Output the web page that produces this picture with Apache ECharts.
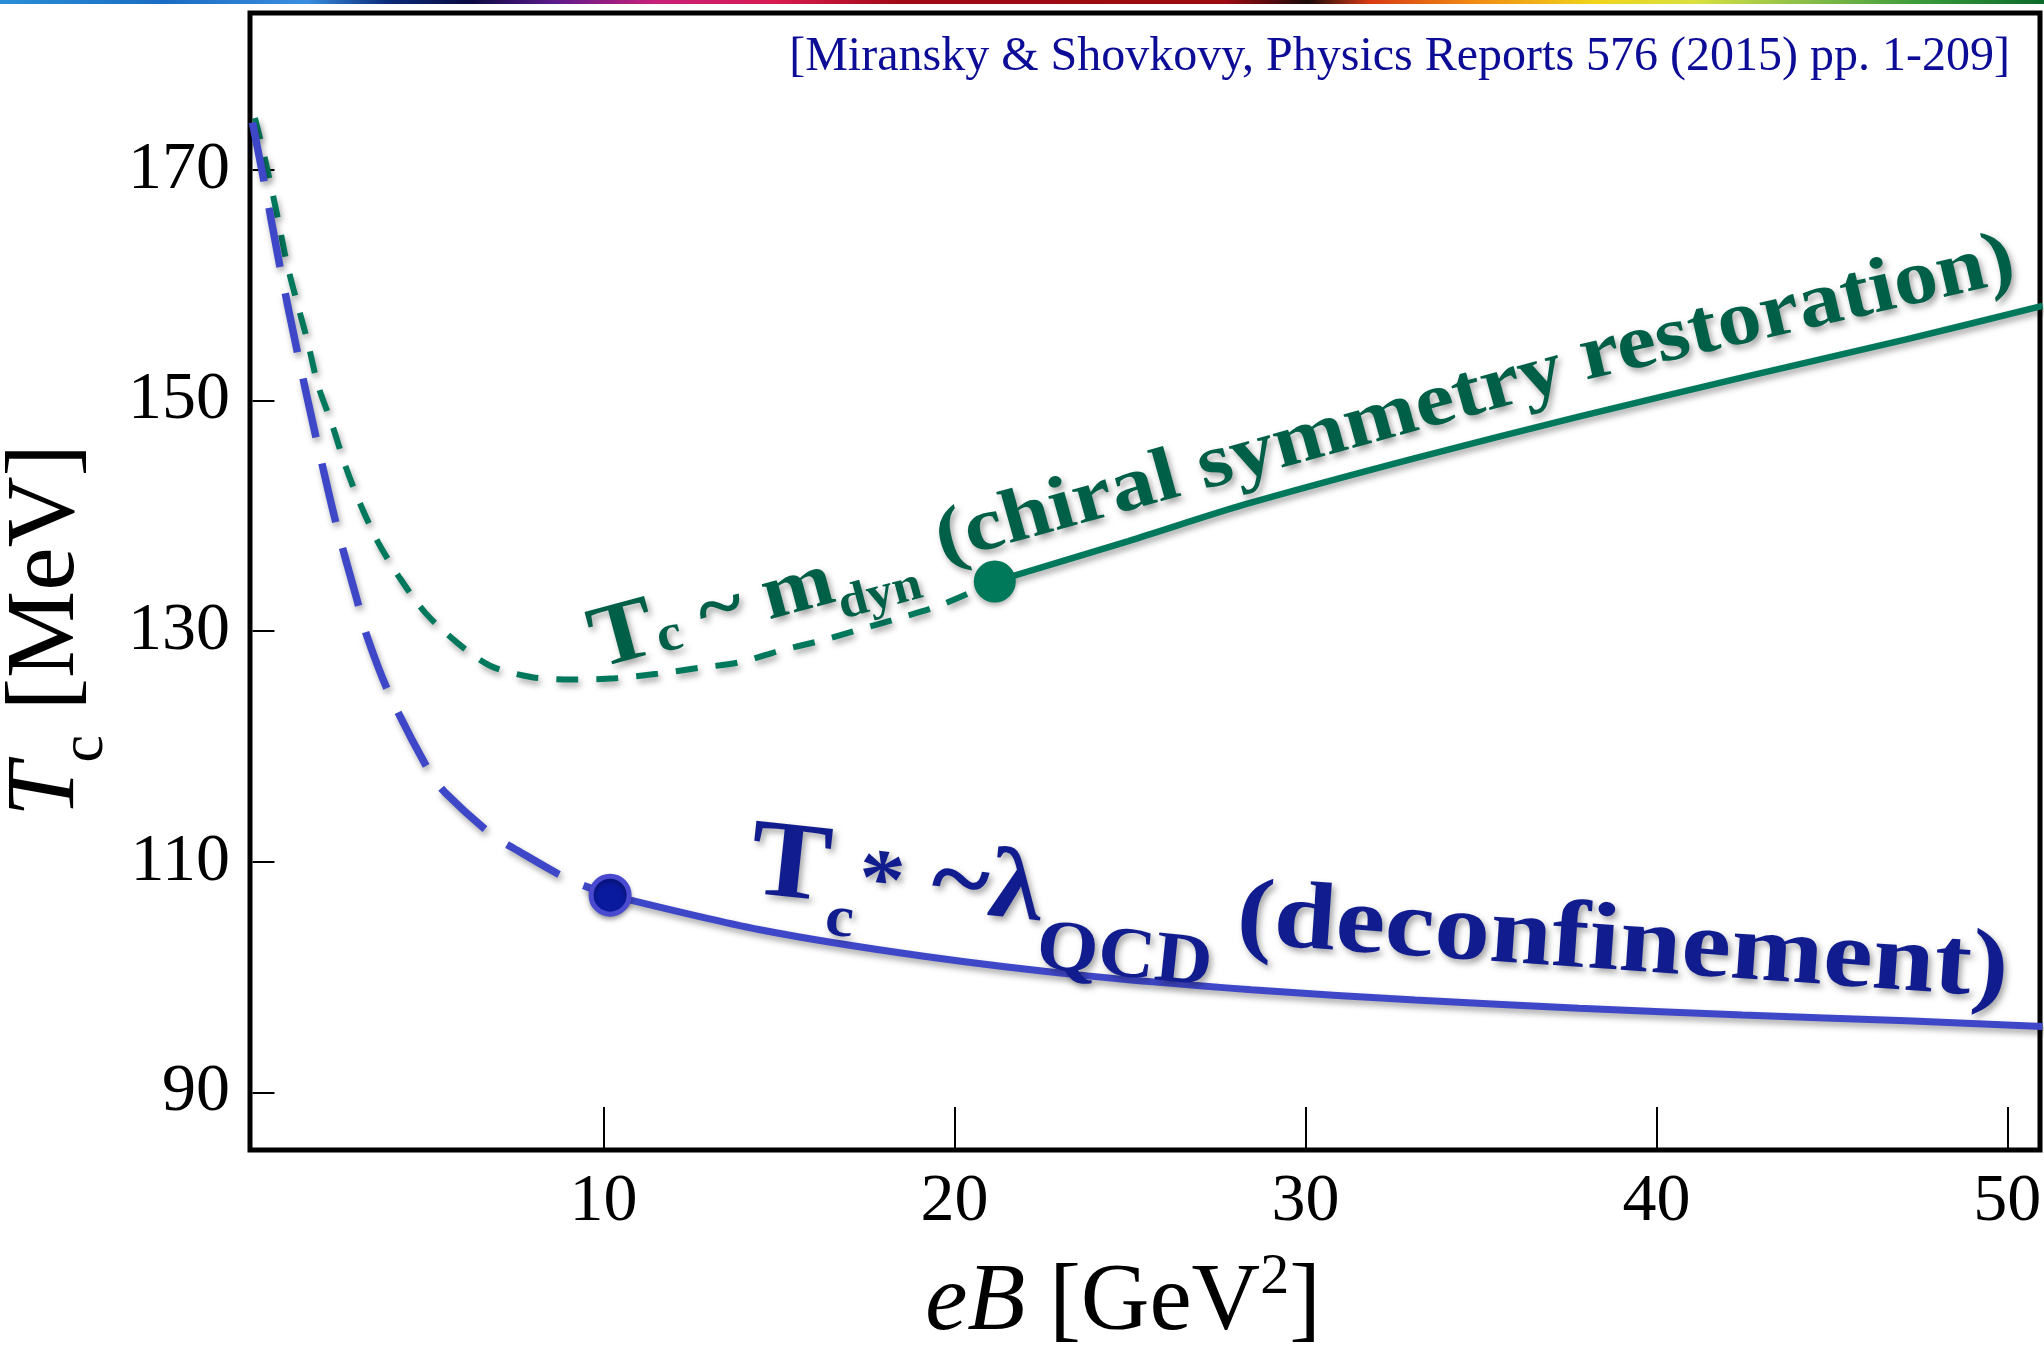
<!DOCTYPE html>
<html>
<head>
<meta charset="utf-8">
<script src="https://cdn.jsdelivr.net/npm/echarts@6/dist/echarts.min.js"></script>
<style>
html,body{margin:0;padding:0;background:#fff;}
#main{width:2044px;height:1348px;}
</style>
</head>
<body>
<div id="main"></div>
<script>
// ---- data ----
const xTicks = [10, 20, 30, 40, 50];
const yTicks = [90, 110, 130, 150, 170];

// chiral symmetry restoration curve (dashed part, then solid part)
const greenDashX = [0.07, 0.36, 0.73, 0.98, 1.27, 1.58, 1.87, 2.27, 2.64, 3.06, 3.58, 4.20, 4.92, 5.83, 6.77, 7.97, 9.11, 10.33, 11.53, 12.70, 13.89, 15.03, 16.23, 17.37, 18.51, 19.65, 21.15];
const greenDashT = [174.5, 170.9, 165.7, 161.9, 158.5, 155.0, 151.3, 147.9, 144.4, 141.1, 137.7, 134.6, 131.6, 129.0, 127.0, 126.0, 125.8, 125.9, 126.3, 126.8, 127.3, 128.3, 129.2, 130.2, 131.2, 132.3, 134.3];
const greenSolidX = [21.15, 24.96, 28.3, 33.13, 37.79, 42.46, 47.12, 51.0];
const greenSolidT = [134.3, 137.8, 141.0, 145.0, 148.6, 152.0, 155.3, 158.2];

// deconfinement curve (dashed part, then solid part)
const blueDashX = [0.0, 0.33, 0.79, 1.30, 1.84, 2.41, 2.98, 3.27, 3.92, 5.06, 5.49, 6.83, 7.42, 8.99, 10.19];
const blueDashT = [174.1, 169.0, 161.5, 153.9, 146.4, 139.0, 132.7, 129.5, 124.4, 117.7, 116.0, 112.3, 111.2, 108.5, 107.1];
const blueSolidX = [10.19, 14.46, 19.13, 23.79, 28.46, 33.13, 37.79, 42.46, 47.12, 51.0];
const blueSolidT = [107.1, 104.1, 101.8, 100.1, 98.9, 98.0, 97.3, 96.7, 96.2, 95.7];

// transition points
const greenPoint = [21.15, 134.3];
const bluePoint = [10.19, 107.1];

const citation = '[Miransky & Shovkovy, Physics Reports 576 (2015) pp. 1-209]';

// ---- build ----
function zip(xs, ys) { return xs.map((x, i) => [x, ys[i]]); }

const SERIF = '"Liberation Serif", "Times New Roman", serif';
const GREEN = '#00785c';
const BLUE = '#3f47c9';
const GREEN_TXT = '#005f47';
const BLUE_TXT = '#111c8e';
const lineShadow = { shadowColor: 'rgba(0,0,0,0.35)', shadowBlur: 6, shadowOffsetX: 2, shadowOffsetY: 4 };
const txtShadow = { textShadowColor: 'rgba(0,0,0,0.35)', textShadowBlur: 6, textShadowOffsetX: 3, textShadowOffsetY: 4 };

function deg(d) { return d * Math.PI / 180; }
function tok(size, color, extra) {
  return Object.assign({ fontFamily: SERIF, fontWeight: 'bold', fontSize: size, fill: color }, txtShadow, extra || {});
}

const chart = echarts.init(document.getElementById('main'), null, { renderer: 'canvas' });

const option = {
  backgroundColor: '#ffffff',
  animation: false,
  grid: { left: 250, right: 4, top: 13, bottom: 198, show: true, borderColor: '#000', borderWidth: 5,
          backgroundColor: 'transparent', containLabel: false, outerBoundsMode: 'none' },
  xAxis: {
    type: 'value', min: -0.07, max: 50.93,
    axisLine: { show: false },
    axisTick: { show: true, inside: true, length: 43, customValues: xTicks, lineStyle: { color: '#000', width: 2 } },
    axisLabel: { customValues: xTicks, fontFamily: SERIF, fontSize: 68, color: '#000', margin: 18 },
    splitLine: { show: false },
    name: '{i|eB} [GeV{u|2}]',
    nameLocation: 'middle', nameGap: 99,
    nameTextStyle: {
      fontFamily: SERIF, fontSize: 95, color: '#000', padding: [0, 44, 0, 0],
      rich: {
        i: { fontFamily: SERIF, fontSize: 95, fontStyle: 'italic', color: '#000' },
        u: { fontFamily: SERIF, fontSize: 58, color: '#000', padding: [0, 0, 52, 0] }
      }
    }
  },
  yAxis: {
    type: 'value', min: 85, max: 183.6,
    axisLine: { show: false },
    axisTick: { show: true, inside: true, length: 22, customValues: yTicks, lineStyle: { color: '#000', width: 2 } },
    axisLabel: { customValues: yTicks, fontFamily: SERIF, fontSize: 68, color: '#000', margin: 20 },
    splitLine: { show: false },
    name: '{i|T}{s|c} [MeV]',
    nameLocation: 'middle', nameGap: 124,
    nameTextStyle: {
      fontFamily: SERIF, fontSize: 98, color: '#000', padding: [0, 98, 0, 0],
      rich: {
        i: { fontFamily: SERIF, fontSize: 98, fontStyle: 'italic', color: '#000' },
        s: { fontFamily: SERIF, fontSize: 62, color: '#000', padding: [78, 0, 0, 0] }
      }
    }
  },
  series: [
    { type: 'line', name: 'chiral dashed', data: zip(greenDashX, greenDashT), smooth: 0.3, symbol: 'none',
      lineStyle: Object.assign({ color: GREEN, width: 6, type: [22, 18] }, lineShadow), z: 3 },
    { type: 'line', name: 'chiral solid', data: zip(greenSolidX, greenSolidT), smooth: 0.3, symbol: 'none',
      lineStyle: Object.assign({ color: GREEN, width: 6.5 }, lineShadow), z: 3 },
    { type: 'line', name: 'deconf dashed', data: zip(blueDashX, blueDashT), smooth: 0.3, symbol: 'none',
      lineStyle: Object.assign({ color: BLUE, width: 7.5, type: [60, 27] }, lineShadow), z: 3 },
    { type: 'line', name: 'deconf solid', data: zip(blueSolidX, blueSolidT), smooth: 0.3, symbol: 'none',
      lineStyle: Object.assign({ color: BLUE, width: 7 }, lineShadow), z: 3 },
    { type: 'scatter', data: [greenPoint], symbol: 'circle', symbolSize: 42,
      itemStyle: { color: '#00785a', opacity: 1, shadowColor: 'rgba(0,0,0,0.3)', shadowBlur: 5, shadowOffsetY: 3 }, z: 5 },
    { type: 'scatter', data: [bluePoint], symbol: 'circle', symbolSize: 38,
      itemStyle: { color: '#0a1a9e', opacity: 1, borderColor: '#4a4ad0', borderWidth: 5, shadowColor: 'rgba(0,0,0,0.3)', shadowBlur: 5, shadowOffsetY: 3 }, z: 5 }
  ],
  graphic: [
    // rainbow strip on top
    { type: 'rect', left: 0, top: 0, shape: { x: 0, y: 0, width: 2044, height: 4 }, silent: true,
      style: { fill: { type: 'linear', x: 0, y: 0, x2: 1, y2: 0, colorStops: [
        { offset: 0.00, color: '#2a8ed6' }, { offset: 0.08, color: '#1a6cc2' }, { offset: 0.15, color: '#3a8ee0' },
        { offset: 0.19, color: '#0a2a78' }, { offset: 0.23, color: '#0a0a40' }, { offset: 0.27, color: '#5a1a8a' },
        { offset: 0.32, color: '#c8207a' }, { offset: 0.38, color: '#d81a50' }, { offset: 0.44, color: '#a00a14' },
        { offset: 0.60, color: '#9a0a10' }, { offset: 0.64, color: '#1a0a0a' }, { offset: 0.67, color: '#d83a14' },
        { offset: 0.72, color: '#f08a14' }, { offset: 0.78, color: '#f0d41a' }, { offset: 0.83, color: '#d8e040' },
        { offset: 0.88, color: '#8ec04a' }, { offset: 0.94, color: '#3a9a3a' }, { offset: 1.00, color: '#0a6a2a' }] } } },
    // citation
    { type: 'text', x: 2010, y: 57, z: 10, silent: true,
      style: { text: citation, fontFamily: SERIF, fontSize: 48, fill: '#0c0c96', align: 'right', verticalAlign: 'middle' } },
    // green annotation, part 1
    { type: 'text', x: 592, y: 646, rotation: deg(15), scaleX: 1.1, z: 10, silent: true,
      style: Object.assign({
        text: '{T|T}{c|c}{m| ~ m}{d|dyn}',
        fontFamily: SERIF, fontWeight: 'bold', fontSize: 74, fill: GREEN_TXT, align: 'left', verticalAlign: 'middle',
        rich: {
          T: tok(88, GREEN_TXT),
          c: tok(52, GREEN_TXT, { padding: [22, 0, 0, 0] }),
          m: tok(78, GREEN_TXT),
          d: tok(48, GREEN_TXT, { padding: [52, 0, 0, 0] })
        }
      }, txtShadow) },
    // green annotation, part 2a
    { type: 'text', x: 937, y: 543, rotation: deg(15.5), scaleX: 1.16, z: 10, silent: true,
      style: Object.assign({
        text: '(chiral symmetry',
        fontFamily: SERIF, fontWeight: 'bold', fontSize: 76, fill: GREEN_TXT, align: 'left', verticalAlign: 'middle'
      }, txtShadow) },
    // green annotation, part 2b
    { type: 'text', x: 1581, y: 360, rotation: deg(13), scaleX: 1.13, z: 10, silent: true,
      style: Object.assign({
        text: 'restoration)',
        fontFamily: SERIF, fontWeight: 'bold', fontSize: 78, fill: GREEN_TXT, align: 'left', verticalAlign: 'middle'
      }, txtShadow) },
    // blue annotation, part 1
    { type: 'text', x: 750, y: 864, rotation: deg(-6), scaleX: 1.1, z: 10, silent: true,
      style: Object.assign({
        text: '{T|T}{c|c}{s|*}{l| ~λ}{q|QCD}',
        fontFamily: SERIF, fontWeight: 'bold', fontSize: 100, fill: BLUE_TXT, align: 'left', verticalAlign: 'middle',
        rich: {
          T: tok(110, BLUE_TXT),
          c: tok(58, BLUE_TXT, { padding: [94, 0, 0, 0] }),
          s: tok(84, BLUE_TXT, { padding: [14, 0, 0, 0] }),
          l: tok(100, BLUE_TXT),
          q: tok(72, BLUE_TXT, { padding: [108, 0, 0, 0] })
        }
      }, txtShadow) },
    // blue annotation, part 2
    { type: 'text', x: 1237, y: 918, rotation: deg(-4), scaleX: 1.16, z: 10, silent: true,
      style: Object.assign({
        text: '(deconfinement)',
        fontFamily: SERIF, fontWeight: 'bold', fontSize: 96, fill: BLUE_TXT, align: 'left', verticalAlign: 'middle'
      }, txtShadow) }
  ]
};

chart.setOption(option);
</script>
</body>
</html>
